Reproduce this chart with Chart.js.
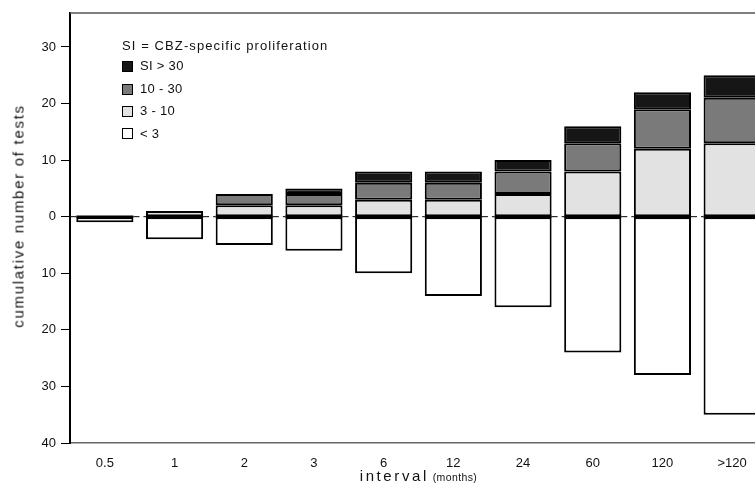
<!DOCTYPE html>
<html lang="en">
<head>
    <meta charset="UTF-8">
    <title>Cumulative number of tests</title>
    <script src="https://cdn.jsdelivr.net/npm/chart.js"></script>
    <style>
        body {
            margin: 0;
            background: #ffffff;
            font-family: "Liberation Sans", Arial, sans-serif;
            color: #111;
            overflow: hidden;
        }

        .wrap {
            position: relative;
            width: 770px;
            height: 487px;
        }

        .legend {
            position: absolute;
            left: 122px;
            top: 35px;
            font-size: 13px;
            letter-spacing: 0.3px;
            line-height: 22.4px;
        }

        .legend div {
            display: flex;
            align-items: center;
            gap: 7px;
        }

        .legend .title {
            margin-bottom: -2px;
            letter-spacing: 1.1px;
        }

        .sw {
            width: 9px;
            height: 9px;
            border: 1.5px solid #000;
            display: inline-block;
        }

        .xtitle {
            position: absolute;
            left: 70px;
            width: 697px;
            top: 467px;
            text-align: center;
            font-size: 15px;
            letter-spacing: 2.6px;
        }

        .xtitle small {
            font-size: 10.5px;
            letter-spacing: 0.4px;
            margin-left: -3px;
        }

        .ytitle {
            position: absolute;
            left: 18px;
            top: 216px;
            transform: translate(-50%, -50%) rotate(-90deg);
            white-space: nowrap;
            font-size: 15px;
            letter-spacing: 1.7px;
        }
    </style>
</head>
<body>
    <div class="wrap">
        <canvas id="chart" width="770" height="487"></canvas>
        <div class="legend" id="legend"></div>
        <div class="xtitle">interval <small>(months)</small></div>
        <div class="ytitle">cumulative number of tests</div>
    </div>

    <script>
        const intervals = ['0.5', '1', '2', '3', '6', '12', '24', '60', '120', '>120'];
        const below3 = [1, 4, 5, 6, 10, 14, 16, 24, 28, 35];
        const si3to10 = [0, 1, 2, 2, 3, 3, 4, 8, 12, 13];
        const si10to30 = [0, 0, 2, 2, 3, 3, 4, 5, 7, 8];
        const siAbove30 = [0, 0, 0, 1, 2, 2, 2, 3, 3, 4];
        const yTicks = [-40, -30, -20, -10, 0, 10, 20, 30];

        const colors = {
            above30: '#161616',
            mid: '#7a7a7a',
            low: '#e2e2e2',
            below3: '#ffffff'
        };

        // legend (html, sits inside the plot)
        const legendItems = [
            ['SI > 30', colors.above30],
            ['10 - 30', colors.mid],
            ['3 - 10', colors.low],
            ['< 3', colors.below3]
        ];
        const legendEl = document.getElementById('legend');
        legendEl.innerHTML = '<div class="title">SI = CBZ-specific proliferation</div>' +
            legendItems.map(it => '<div><span class="sw" style="background:' + it[1] + '"></span>' + it[0].replace('<', '&lt;') + '</div>').join('');

        const nz = arr => arr.map(v => v === 0 ? null : v);

        // zero line: dashed in the gaps, solid across the bars; plus top frame line
        const frame = {
            id: 'frame',
            afterDatasetsDraw(chart) {
                const ctx = chart.ctx;
                const a = chart.chartArea;
                const y0 = chart.scales.y.getPixelForValue(0);
                const bars = chart.getDatasetMeta(0).data;
                ctx.save();
                ctx.strokeStyle = '#000';
                let x = a.left;
                bars.forEach(b => {
                    const l = b.x - b.width / 2;
                    const r = b.x + b.width / 2;
                    ctx.lineWidth = 1;
                    ctx.setLineDash([6, 4]);
                    ctx.beginPath();
                    ctx.moveTo(x, y0);
                    ctx.lineTo(l, y0);
                    ctx.stroke();
                    ctx.setLineDash([]);
                    ctx.lineWidth = 2.5;
                    ctx.beginPath();
                    ctx.moveTo(l, y0);
                    ctx.lineTo(r, y0);
                    ctx.stroke();
                    x = r;
                });
                if (x < a.right) {
                    ctx.lineWidth = 1;
                    ctx.setLineDash([6, 4]);
                    ctx.beginPath();
                    ctx.moveTo(x, y0);
                    ctx.lineTo(a.right, y0);
                    ctx.stroke();
                }
                ctx.setLineDash([]);
                ctx.strokeStyle = '#555';
                ctx.lineWidth = 1.5;
                ctx.beginPath();
                ctx.moveTo(a.left, a.top);
                ctx.lineTo(a.right, a.top);
                ctx.stroke();
                ctx.restore();
            }
        };

        const barStyle = {
            borderColor: '#000',
            borderWidth: 2,
            borderSkipped: false,
            inflateAmount: 0,
            barPercentage: 0.82,
            categoryPercentage: 1
        };

        new Chart(document.getElementById('chart'), {
            type: 'bar',
            data: {
                labels: intervals,
                datasets: [
                    Object.assign({ label: '< 3', data: nz(below3.map(v => -v)), backgroundColor: colors.below3 }, barStyle),
                    Object.assign({ label: '3 - 10', data: nz(si3to10), backgroundColor: colors.low }, barStyle),
                    Object.assign({ label: '10 - 30', data: nz(si10to30), backgroundColor: colors.mid }, barStyle),
                    Object.assign({ label: 'SI > 30', data: nz(siAbove30), backgroundColor: colors.above30 }, barStyle)
                ]
            },
            options: {
                responsive: false,
                animation: false,
                layout: { padding: { top: 13, right: 3, left: 0, bottom: 0 } },
                plugins: {
                    legend: { display: false },
                    tooltip: { enabled: false }
                },
                scales: {
                    x: {
                        stacked: true,
                        grid: { display: false },
                        border: { color: '#666', width: 1.5 },
                        ticks: {
                            color: '#111',
                            font: { family: 'Liberation Sans', size: 13 },
                            maxRotation: 0,
                            padding: 5
                        },
                        afterFit(scale) { scale.height = 44; }
                    },
                    y: {
                        stacked: true,
                        min: -40,
                        max: 36,
                        afterBuildTicks(scale) {
                            scale.ticks = yTicks.map(v => ({ value: v }));
                        },
                        grid: {
                            drawOnChartArea: false,
                            drawTicks: true,
                            tickLength: 9,
                            color: '#000',
                            lineWidth: 1
                        },
                        border: { color: '#000', width: 2 },
                        ticks: {
                            color: '#111',
                            font: { family: 'Liberation Sans', size: 13 },
                            padding: 5,
                            callback: v => Math.abs(v)
                        },
                        afterFit(scale) { scale.width = 70; }
                    }
                }
            },
            plugins: [frame]
        });
    </script>
</body>
</html>
